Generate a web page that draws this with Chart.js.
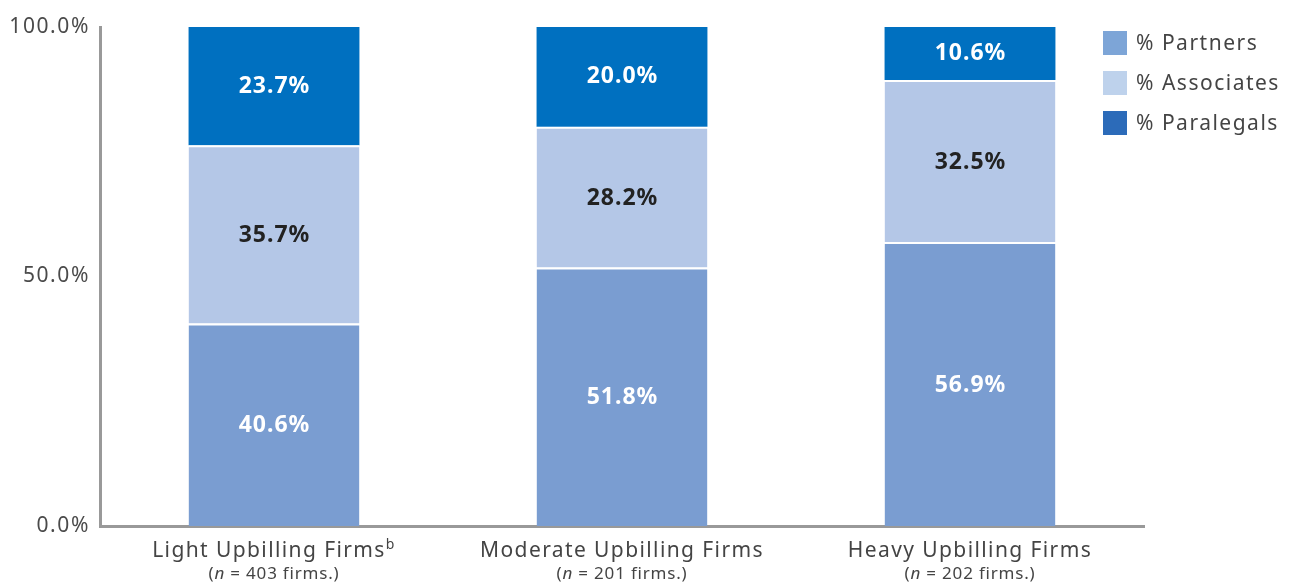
<!DOCTYPE html>
<html>
<head>
<meta charset="utf-8">
<script src="https://cdn.jsdelivr.net/npm/chart.js@4/dist/chart.umd.min.js"></script>
<style>
  html, body { margin: 0; padding: 0; background: #fff; }
  #wrap { width: 1291px; height: 583px; position: relative; }
</style>
</head>
<body>
<div id="wrap"><canvas id="c" width="1291" height="583"></canvas></div>
<script>
// Firm groups and their sample sizes
const categories = ['Light Upbilling Firms', 'Moderate Upbilling Firms', 'Heavy Upbilling Firms'];
const categoryNotes = ['b', '', ''];
const firmCounts = [403, 201, 202];

// Staffing mix (% of timekeepers) per group
const partners = [40.6, 51.8, 56.9];
const associates = [35.7, 28.2, 32.5];
const paralegals = [23.7, 20.0, 10.6];

const seriesNames = ['% Partners', '% Associates', '% Paralegals'];
const yTicks = [0, 50, 100];

const FONT = '"Noto Sans", "DejaVu Sans", sans-serif';
const barColors = ['#7a9dd1', '#b4c7e7', '#0070c0'];
const legendColors = ['#7da5d7', '#bed2ec', '#2c6bb9'];
const labelColors = ['#ffffff', '#222222', '#ffffff'];

function spaced(ctx, px) {
  if ('letterSpacing' in ctx) ctx.letterSpacing = px + 'px';
}

// Value labels centred in each stacked segment
const segmentLabels = {
  id: 'segmentLabels',
  afterDatasetsDraw(chart) {
    const ctx = chart.ctx;
    ctx.save();
    ctx.font = 'bold 23px ' + FONT;
    spaced(ctx, 1);
    ctx.textAlign = 'center';
    ctx.textBaseline = 'middle';
    chart.data.datasets.forEach((ds, di) => {
      const meta = chart.getDatasetMeta(di);
      meta.data.forEach((bar, i) => {
        const mid = (bar.y + bar.base) / 2 + (di < 2 ? 1 : 0);
        ctx.fillStyle = labelColors[di];
        ctx.fillText(ds.data[i].toFixed(1) + '%', bar.x + 0.5, mid);
      });
    });
    ctx.restore();
  }
};

// Two-line category labels under the axis: name (with note) and sample size
const categoryLabels = {
  id: 'categoryLabels',
  afterDraw(chart) {
    const ctx = chart.ctx;
    const xs = chart.scales.x;
    ctx.save();
    ctx.fillStyle = '#444444';
    ctx.textBaseline = 'middle';
    ctx.textAlign = 'left';
    categories.forEach((name, i) => {
      const cx = xs.getPixelForTick(i);
      // first line
      ctx.font = '21px ' + FONT;
      spaced(ctx, 1.4);
      const w1 = ctx.measureText(name).width;
      let supW = 0;
      if (categoryNotes[i]) {
        ctx.font = '14px ' + FONT;
        supW = ctx.measureText(categoryNotes[i]).width;
      }
      const x0 = cx - (w1 + supW) / 2;
      ctx.font = '21px ' + FONT;
      ctx.fillText(name, x0, 551);
      if (categoryNotes[i]) {
        ctx.font = '14px ' + FONT;
        ctx.fillText(categoryNotes[i], x0 + w1, 545);
      }
      // second line: (n = 403 firms.)
      const open = '(';
      const nTxt = 'n';
      const rest = ' = ' + firmCounts[i] + ' firms.)';
      spaced(ctx, 0.8);
      ctx.font = '17px ' + FONT;
      const wOpen = ctx.measureText(open).width;
      const wRest = ctx.measureText(rest).width;
      ctx.font = 'italic 17px ' + FONT;
      const wN = ctx.measureText(nTxt).width;
      let x = cx - (wOpen + wN + wRest) / 2;
      ctx.font = '17px ' + FONT;
      ctx.fillText(open, x, 574); x += wOpen;
      ctx.font = 'italic 17px ' + FONT;
      ctx.fillText(nTxt, x, 574); x += wN;
      ctx.font = '17px ' + FONT;
      ctx.fillText(rest, x, 574);
    });
    ctx.restore();
  }
};

// Legend at the upper right, beside the plot
const sideLegend = {
  id: 'sideLegend',
  afterDraw(chart) {
    const ctx = chart.ctx;
    ctx.save();
    ctx.font = '21px ' + FONT;
    spaced(ctx, 1.5);
    ctx.textBaseline = 'middle';
    ctx.textAlign = 'left';
    chart.data.datasets.forEach((ds, i) => {
      const cy = 43 + i * 40;
      ctx.fillStyle = legendColors[i];
      ctx.fillRect(1103, cy - 12, 24, 24);
      ctx.fillStyle = '#444444';
      ctx.fillText(ds.label, 1136, cy + 1);
    });
    ctx.restore();
  }
};

// Wider tracking for the axis tick labels
const tickTracking = {
  id: 'tickTracking',
  beforeDraw(chart) { spaced(chart.ctx, 1.6); },
  afterDraw(chart) { spaced(chart.ctx, 0); }
};

const values = [partners, associates, paralegals];

new Chart(document.getElementById('c'), {
  type: 'bar',
  data: {
    labels: categories,
    datasets: values.map((arr, i) => ({
      label: seriesNames[i],
      data: arr,
      backgroundColor: barColors[i],
      borderColor: '#ffffff',
      borderWidth: i < 2 ? { top: 2, left: 0, right: 0, bottom: 0 } : 0,
      borderSkipped: false,
      categoryPercentage: 1,
      barPercentage: 0.491
    }))
  },
  options: {
    responsive: false,
    animation: false,
    devicePixelRatio: 1,
    layout: { padding: { left: 0, right: 147, top: 27, bottom: 0 } },
    plugins: {
      legend: { display: false },
      tooltip: { enabled: false }
    },
    scales: {
      x: {
        stacked: true,
        grid: { display: false, drawTicks: false },
        border: { display: true, color: '#999999', width: 3 },
        ticks: { display: false },
        afterFit(scale) { scale.height = 57; }
      },
      y: {
        stacked: true,
        min: 0,
        max: 100,
        afterBuildTicks(scale) { scale.ticks = yTicks.map(v => ({ value: v })); },
        grid: { display: false, drawTicks: false },
        border: { display: true, color: '#999999', width: 3 },
        ticks: {
          padding: 10,
          color: '#4a4a4a',
          font: { family: FONT, size: 21 },
          callback: v => v.toFixed(1) + '%'
        },
        afterFit(scale) { scale.width = 100; }
      }
    }
  },
  plugins: [tickTracking, segmentLabels, categoryLabels, sideLegend]
});
</script>
</body>
</html>
